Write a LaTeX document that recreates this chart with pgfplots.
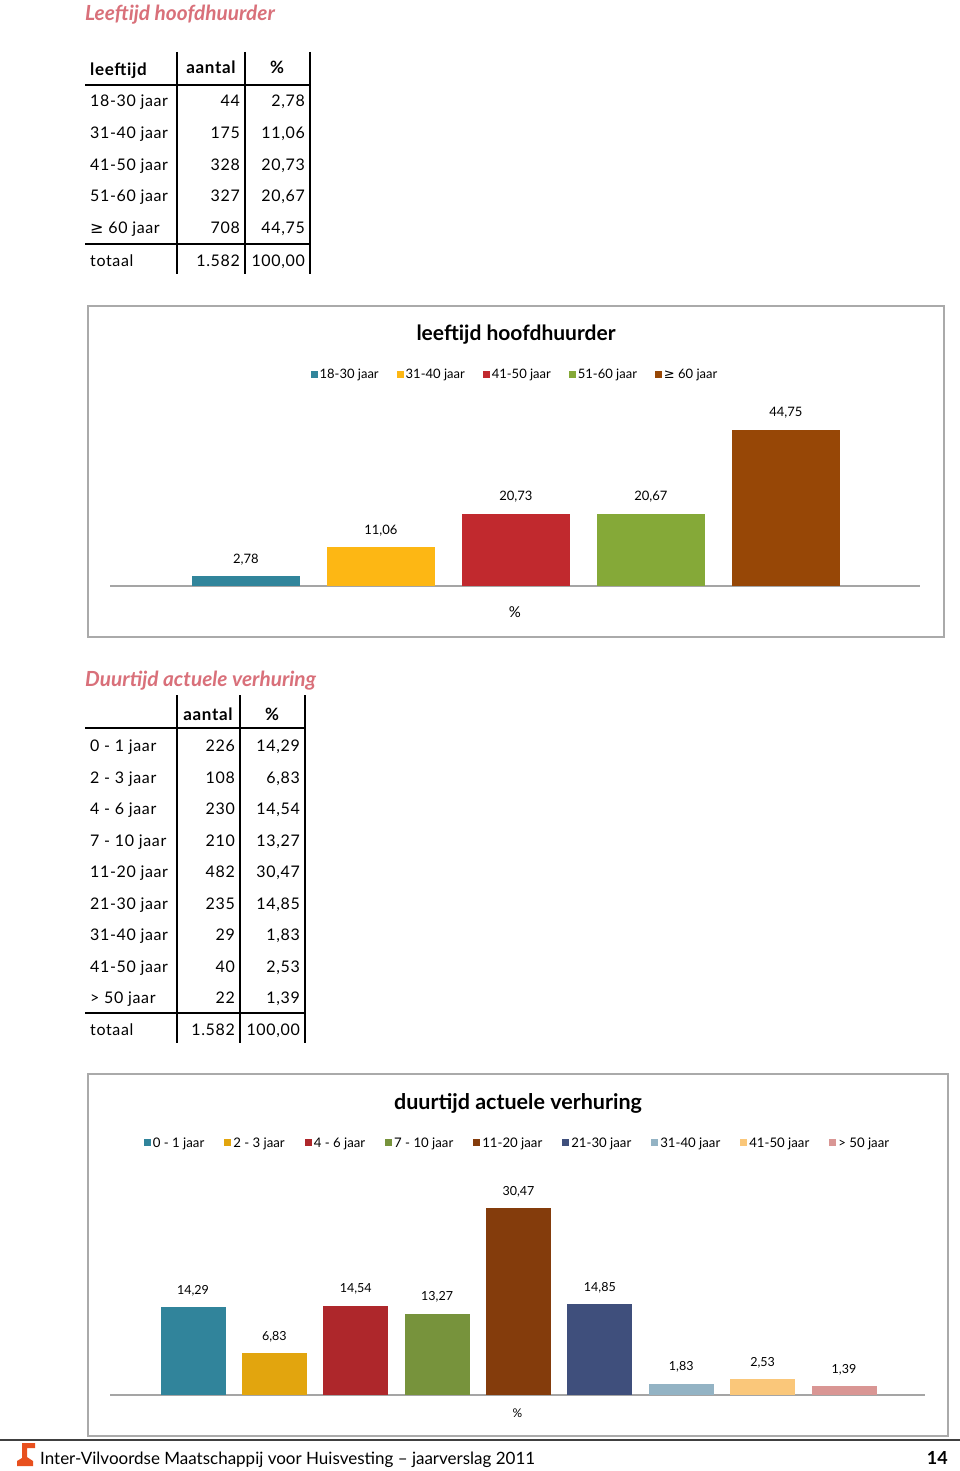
\documentclass[border=0pt]{standalone}
\usepackage{pgfplots}
\pgfplotsset{compat=1.18}
\usepackage{fontspec}
\setmainfont{Lato}
\newfontfamily\tabfont{Lato}[LetterSpace=4]
\newfontfamily\symfont{DejaVu Sans}
\definecolor{ttl}{RGB}{217,112,122}
\definecolor{frm}{RGB}{170,170,170}
\definecolor{axl}{RGB}{165,165,165}
\definecolor{a1}{RGB}{49,133,155}
\definecolor{a2}{RGB}{253,183,20}
\definecolor{a3}{RGB}{193,41,46}
\definecolor{a4}{RGB}{133,169,56}
\definecolor{a5}{RGB}{151,71,6}
\definecolor{b1}{RGB}{49,132,155}
\definecolor{b2}{RGB}{226,165,14}
\definecolor{b3}{RGB}{174,39,43}
\definecolor{b4}{RGB}{119,147,60}
\definecolor{b5}{RGB}{132,60,12}
\definecolor{b6}{RGB}{63,79,124}
\definecolor{b7}{RGB}{147,179,196}
\definecolor{b8}{RGB}{250,199,122}
\definecolor{b9}{RGB}{217,150,148}
\definecolor{logo}{RGB}{232,80,30}
\newcommand{\fs}[1]{\fontsize{#1}{#1}\selectfont}
\begin{document}
\begin{tikzpicture}
\begin{scope}[x=1pt,y=-1pt]
\useasboundingbox (0,0) rectangle (960,1471);
\fill[white] (0,0) rectangle (960,1471);
% ---------- title 1
\node[anchor=base west, text=ttl, font=\fs{20.8}\bfseries\itshape, inner sep=0] at (85,21) {Leeftijd hoofdhuurder};
% ---------- table 1
\begin{scope}[line width=2pt]
\draw (177,52) -- (177,274);
\draw (245,52) -- (245,274);
\draw (310,52) -- (310,274);
\draw (85,85) -- (310,85);
\draw (85,244) -- (310,244);
\end{scope}
\node[anchor=base west, inner sep=0, font=\tabfont\fs{17}\bfseries] at (90,76) {leeftijd};
\node[anchor=base, inner sep=0, font=\tabfont\fs{17}\bfseries] at (211,74) {aantal};
\node[anchor=base, inner sep=0, font=\tabfont\fs{17}\bfseries] at (277,74) {\%};
\foreach \lab/\n/\p/\yy in {18-30 jaar/44/{2,78}/107, 31-40 jaar/175/{11,06}/139, 41-50 jaar/328/{20,73}/171, 51-60 jaar/327/{20,67}/202, {{\symfont ≥} 60 jaar}/708/{44,75}/234, totaal/1.582/{100,00}/266}{
  \node[anchor=base west, inner sep=0, font=\tabfont\fs{16}] at (90,\yy) {\lab};
  \node[anchor=base east, inner sep=0, font=\tabfont\fs{16}] at (240,\yy) {\n};
  \node[anchor=base east, inner sep=0, font=\tabfont\fs{16}] at (305,\yy) {\p};
}
% ---------- frame 1
\draw[frm, line width=1.8pt] (88,306) rectangle (944,637);
\node[anchor=base, inner sep=0, font=\fs{21}\bfseries] at (516,340) {leeftijd hoofdhuurder};
% ---------- title 2
\node[anchor=base west, text=ttl, font=\fs{20.8}\bfseries\itshape, inner sep=0] at (85,686) {Duurtijd actuele verhuring};
% ---------- table 2
\begin{scope}[line width=2pt]
\draw (177,695) -- (177,1043);
\draw (240,695) -- (240,1043);
\draw (305,695) -- (305,1043);
\draw (85,728) -- (305,728);
\draw (85,1013) -- (305,1013);
\end{scope}
\node[anchor=base, inner sep=0, font=\tabfont\fs{17}\bfseries] at (208,720) {aantal};
\node[anchor=base, inner sep=0, font=\tabfont\fs{17}\bfseries] at (272,720) {\%};
\foreach \lab/\n/\p/\yy in {0 - 1 jaar/226/{14,29}/751, 2 - 3 jaar/108/{6,83}/783, 4 - 6 jaar/230/{14,54}/814, 7 - 10 jaar/210/{13,27}/846, 11-20 jaar/482/{30,47}/877, 21-30 jaar/235/{14,85}/909, 31-40 jaar/29/{1,83}/940, 41-50 jaar/40/{2,53}/972, {> 50 jaar}/22/{1,39}/1003, totaal/1.582/{100,00}/1035}{
  \node[anchor=base west, inner sep=0, font=\tabfont\fs{16}] at (90,\yy) {\lab};
  \node[anchor=base east, inner sep=0, font=\tabfont\fs{16}] at (235,\yy) {\n};
  \node[anchor=base east, inner sep=0, font=\tabfont\fs{16}] at (300,\yy) {\p};
}
% ---------- frame 2
\draw[frm, line width=1.8pt] (88,1074) rectangle (948,1436);
\node[anchor=base, inner sep=0, font=\fs{21.5}\bfseries] at (518,1109) {duurtijd actuele verhuring};
% ---------- footer
\draw[line width=1.5pt, black!75] (0,1440) -- (960,1440);
\fill[logo] (22,1443) -- (35,1443) -- (35,1448) -- (27,1448) -- (27,1457) -- (33,1461) -- (33,1466) -- (17,1466) -- (17,1461) -- (22,1458) -- cycle;
\node[anchor=base west, inner sep=0, font=\fs{17}] at (40,1464) {Inter-Vilvoordse Maatschappij voor Huisvesting -- jaarverslag 2011};
\node[anchor=base east, inner sep=0, font=\fs{18}\bfseries] at (948,1464) {14};
\end{scope}
% ================= chart 1
\begin{axis}[
  at={(110pt,-586pt)}, anchor=south west,
  scale only axis, width=810pt, height=174.3pt,
  xmin=-1.007, xmax=4.993, ymin=0, ymax=50,
  axis x line*=bottom, axis y line=none,
  x axis line style={axl, line width=1.5pt, -},
  xtick=\empty, ytick=\empty,
  xlabel={\%},
  xlabel style={at={(axis description cs:0.5,0)}, anchor=center, yshift=-26pt, font=\fs{15}},
  nodes near coords,
  every node near coord/.append style={anchor=center, yshift=17pt, font=\fs{13}, text=black},
  /pgf/number format/use comma, /pgf/number format/fixed, /pgf/number format/fixed zerofill, /pgf/number format/precision=2, /pgf/number format/assume math mode=true,
  legend style={draw=none, fill=none, at={(axis description cs:0.5,1.216)}, anchor=center, legend columns=-1, font=\fs{13}, /tikz/every even column/.append style={column sep=16pt}},
  legend image code/.code={\fill[#1] (0pt,-3.5pt) rectangle (7pt,3.5pt);},
]
\addplot[ybar, bar width=108pt, fill=a1, draw=none] coordinates {(0,2.78)};
\addplot[ybar, bar width=108pt, fill=a2, draw=none] coordinates {(1,11.06)};
\addplot[ybar, bar width=108pt, fill=a3, draw=none] coordinates {(2,20.73)};
\addplot[ybar, bar width=108pt, fill=a4, draw=none] coordinates {(3,20.67)};
\addplot[ybar, bar width=108pt, fill=a5, draw=none] coordinates {(4,44.75)};
\legend{18-30 jaar, 31-40 jaar, 41-50 jaar, 51-60 jaar, {\symfont ≥} 60 jaar}
\end{axis}
% ================= chart 2
\begin{axis}[
  at={(110pt,-1395pt)}, anchor=south west,
  scale only axis, width=815pt, height=214.9pt,
  xmin=-1.02, xmax=8.995, ymin=0, ymax=35,
  axis x line*=bottom, axis y line=none,
  x axis line style={axl, line width=1.5pt, -},
  xtick=\empty, ytick=\empty,
  xlabel={\%},
  xlabel style={at={(axis description cs:0.5,0)}, anchor=center, yshift=-18pt, font=\fs{12}},
  nodes near coords,
  every node near coord/.append style={anchor=center, yshift=16.5pt, font=\fs{12.5}, text=black},
  /pgf/number format/use comma, /pgf/number format/fixed, /pgf/number format/fixed zerofill, /pgf/number format/precision=2, /pgf/number format/assume math mode=true,
  legend style={draw=none, fill=none, at={(axis description cs:0.5,1.173)}, anchor=center, legend columns=-1, font=\fs{13.2}, /tikz/every even column/.append style={column sep=18pt}},
  legend image code/.code={\fill[#1] (0pt,-3.5pt) rectangle (7pt,3.5pt);},
]
\addplot[ybar, bar width=65pt, fill=b1, draw=none] coordinates {(0,14.29)};
\addplot[ybar, bar width=65pt, fill=b2, draw=none] coordinates {(1,6.83)};
\addplot[ybar, bar width=65pt, fill=b3, draw=none] coordinates {(2,14.54)};
\addplot[ybar, bar width=65pt, fill=b4, draw=none] coordinates {(3,13.27)};
\addplot[ybar, bar width=65pt, fill=b5, draw=none] coordinates {(4,30.47)};
\addplot[ybar, bar width=65pt, fill=b6, draw=none] coordinates {(5,14.85)};
\addplot[ybar, bar width=65pt, fill=b7, draw=none] coordinates {(6,1.83)};
\addplot[ybar, bar width=65pt, fill=b8, draw=none] coordinates {(7,2.53)};
\addplot[ybar, bar width=65pt, fill=b9, draw=none] coordinates {(8,1.39)};
\legend{0 - 1 jaar, 2 - 3 jaar, 4 - 6 jaar, 7 - 10 jaar, 11-20 jaar, 21-30 jaar, 31-40 jaar, 41-50 jaar, > 50 jaar}
\end{axis}
\end{tikzpicture}
\end{document}
